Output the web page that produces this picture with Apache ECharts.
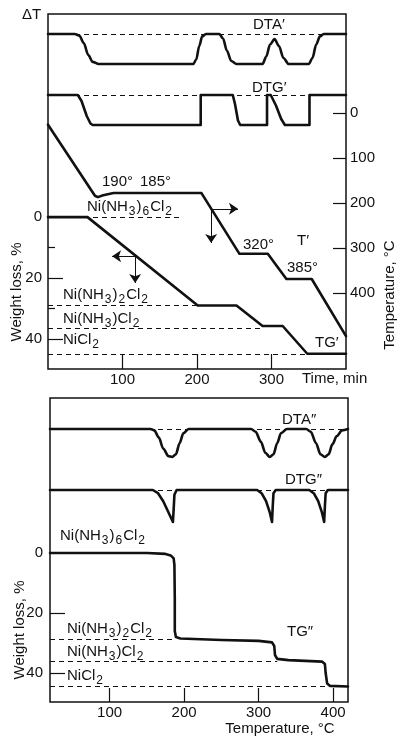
<!DOCTYPE html>
<html lang="en">
<head>
<meta charset="UTF-8">
<title>Ni(NH3)6Cl2 thermal decomposition</title>
<script src="https://cdn.jsdelivr.net/npm/echarts@6.0.0/dist/echarts.min.js"></script>
<style>
  html, body { margin: 0; padding: 0; background: #fff; }
  #main { width: 398px; height: 737px; }
</style>
</head>
<body>
<div id="main"></div>
<script>
// ---- data ----
// top panel: time (min) based curves
var tTemp = [[0, 26], [63, 184], [67, 187], [74, 183], [88, 178], [206, 178], [257, 313], [295, 313],
  [320, 369], [354, 369], [400, 496]];                          // T' (°C)
var tgTime = [[0, 0], [53, 0], [201, 29], [253, 29], [288, 35.7], [315, 35.7], [348, 44.8], [400, 44.8]]; // TG' (%)
var dtaTime = [[0, 0], [36, 0], [42, -0.05], [48, -0.3], [54, -0.7], [60, -0.93], [68, -1], [195, -1],
  [199, -0.85], [203, -0.4], [207, -0.08], [212, 0], [230, 0], [235, -0.15], [240, -0.55], [246, -0.9],
  [253, -1], [288, -1], [293, -0.75], [298, -0.35], [304, -0.17], [310, -0.4], [316, -0.8], [323, -1],
  [350, -1], [355, -0.8], [360, -0.35], [365, -0.08], [370, 0], [400, 0]];
var dtgTime = [[0, 0], [40, 0], [45, -0.2], [52, -0.7], [57, -0.95], [60, -1], [205, -1], [205, 0],
  [248, 0], [251, -0.3], [255, -0.85], [258, -1], [294, -1], [294, 0], [299, 0], [306, -0.35],
  [313, -0.8], [318, -1], [351, -1], [351, 0], [400, 0]];
var topLevels = [0, 29, 36.4, 44.8];          // dashed composition levels, %
var topLevelEnds = [180, 201, 288, 348];      // where each dashed line stops, min
var timeTicks = [100, 200, 300];
var tempTicks = [0, 100, 200, 300, 400];
var lossLabels = [0, 20, 40];
var lossMajor = [20, 40];
var lossMinor = [10, 30];

// bottom panel: temperature (°C) based curves
var tgTemp = [[20, 0], [150, 0], [175, 0.3], [182, 0.8], [186, 1.8], [187, 4], [187.5, 15], [187.5, 26],
  [189, 28], [195, 28.5], [250, 29], [300, 29.3], [318, 29.8], [321, 31], [322, 34], [325, 35.3],
  [340, 35.7], [385, 36.2], [389, 37], [390, 40], [392, 43.5], [396, 44.3], [420, 44.5]];
var dtaTemp = [[20, 0], [155, 0], [160, -0.05], [166, -0.3], [172, -0.7], [179, -0.97], [184, -1],
  [189, -0.9], [194, -0.5], [199, -0.15], [206, 0], [290, 0], [296, -0.1], [303, -0.45], [309, -0.85],
  [315, -1], [320, -0.9], [325, -0.5], [330, -0.15], [338, 0], [364, 0], [370, -0.1], [377, -0.5],
  [383, -0.9], [389, -1], [394, -0.9], [399, -0.55], [405, -0.25], [412, -0.05], [420, 0]];
var dtgTemp = [[20, 0], [158, 0], [165, -0.1], [172, -0.35], [178, -0.65], [183, -0.9], [185, -1],
  [186, -0.6], [187, -0.15], [190, 0], [298, 0], [304, -0.1], [310, -0.35], [315, -0.7], [318, -1],
  [319, -0.5], [320, -0.1], [323, 0], [368, 0], [374, -0.1], [380, -0.35], [385, -0.7], [388, -1],
  [389, -0.5], [390, -0.1], [393, 0], [420, 0]];
var botLevels = [28.7, 36, 44.3];
var botLevelEnds = [188, 325, 396];
var botTempTicks = [100, 200, 300, 400];

var INK = '#111';
var FONT = "'Liberation Sans', Arial, sans-serif";

function dashed(x0, x1, y) {
  return [{ coord: [x0, y] }, { coord: [x1, y] }];
}
function arrow(a, b) {
  return [{ coord: a, symbol: 'none' }, { coord: b, symbol: 'arrow' }];
}
function line(name, data, xi, yi, smooth) {
  return {
    name: name, type: 'line', data: data, xAxisIndex: xi, yAxisIndex: yi,
    showSymbol: false, smooth: smooth || false, smoothMonotone: 'x',
    lineStyle: { color: INK, width: 2.6, join: 'round', cap: 'round' }
  };
}
function marks(data, dash) {
  return {
    silent: true, symbol: ['none', 'none'], symbolSize: 9, label: { show: false },
    lineStyle: { color: INK, width: 1, type: dash ? [5, 4] : 'solid' },
    data: data
  };
}
function txt(x, y, text, extra) {
  var st = {
    text: text, fill: INK, fontSize: 15, fontFamily: FONT, lineHeight: 22,
    align: 'left', textAlign: 'left', verticalAlign: 'middle', textVerticalAlign: 'middle',
    rich: { s: { fontSize: 12, lineHeight: 12, verticalAlign: 'bottom', padding: [0, 1, 0, 1], fontFamily: FONT, fill: INK } }
  };
  var el = { type: 'text', x: x, y: y, style: st, silent: true };
  if (extra) {
    if (extra.align) { st.align = extra.align; st.textAlign = extra.align; }
    if (extra.rotation) el.rotation = extra.rotation;
  }
  return el;
}

var chart = echarts.init(document.getElementById('main'), null, { renderer: 'canvas' });

var lbl = { color: INK, fontSize: 15, fontFamily: FONT };
function tick(vals, len) {
  return { show: true, inside: true, length: len, customValues: vals, lineStyle: { color: INK, width: 1.2 } };
}
var noLine = { show: false, onZero: false };

var topLevelLines = topLevels.map(function (v, i) { return dashed(0, topLevelEnds[i], v); });
var botLevelLines = botLevels.map(function (v, i) { return dashed(20, botLevelEnds[i], v); });

var tSeries = line("T'", tTemp, 0, 2);
tSeries.markLine = marks([arrow([219, 213], [255, 213]), arrow([219, 213], [219, 289])]);
var tgSeries = line("TG'", tgTime, 0, 0);
tgSeries.markLine = marks(topLevelLines, true);
var tgArrows = { type: 'line', data: [], xAxisIndex: 0, yAxisIndex: 0,
  markLine: marks([arrow([117, 12.8], [86, 12.8]), arrow([117, 12.8], [117, 21.6])]) };
var dtaS = line("DTA'", dtaTime, 0, 3, 0.3);
dtaS.markLine = marks([dashed(0, 400, 0)], true);
var dtgS = line("DTG'", dtgTime, 0, 4);
dtgS.markLine = marks([dashed(0, 400, 0)], true);

var tg2 = line("TG''", tgTemp, 1, 5);
tg2.markLine = marks(botLevelLines, true);
var dta2 = line("DTA''", dtaTemp, 1, 6, 0.3);
dta2.markLine = marks([dashed(20, 420, 0)], true);
var dtg2 = line("DTG''", dtgTemp, 1, 7);
dtg2.markLine = marks([dashed(20, 420, 0)], true);

var option = {
  animation: false,
  backgroundColor: '#fff',
  grid: [
    { left: 48, right: 52, top: 14, height: 355, show: true, borderColor: INK, borderWidth: 1.5, backgroundColor: 'transparent', outerBoundsMode: 'none' },
    { left: 50, right: 50, top: 398, height: 304, show: true, borderColor: INK, borderWidth: 1.5, backgroundColor: 'transparent', outerBoundsMode: 'none' }
  ],
  xAxis: [
    { gridIndex: 0, type: 'value', position: 'bottom', min: 0, max: 400, axisLine: noLine, splitLine: { show: false },
      axisTick: tick(timeTicks, 15), axisLabel: Object.assign({ customValues: timeTicks, margin: 3 }, lbl) },
    { gridIndex: 1, type: 'value', position: 'bottom', min: 20, max: 420, axisLine: noLine, splitLine: { show: false },
      axisTick: tick(botTempTicks, 14), axisLabel: Object.assign({ customValues: botTempTicks, margin: 3 }, lbl) }
  ],
  yAxis: [
    { gridIndex: 0, type: 'value', position: 'left', inverse: true, min: -66.6, max: 49.8,
      axisLine: noLine, splitLine: { show: false },
      axisTick: tick(lossMajor, 15), axisLabel: Object.assign({ customValues: lossLabels, margin: 6 }, lbl) },
    { gridIndex: 0, type: 'value', position: 'left', inverse: true, min: -66.6, max: 49.8,
      axisLine: noLine, splitLine: { show: false },
      axisTick: tick(lossMinor, 7), axisLabel: { show: false } },
    { gridIndex: 0, type: 'value', position: 'right', inverse: true, min: -220, max: 569,
      axisLine: noLine, splitLine: { show: false },
      axisTick: tick(tempTicks, 13), axisLabel: Object.assign({ customValues: tempTicks, margin: 4 }, lbl) },
    { gridIndex: 0, type: 'value', min: -11.17, max: 0.667, show: false },
    { gridIndex: 0, type: 'value', min: -9.13, max: 2.7, show: false },
    { gridIndex: 1, type: 'value', position: 'left', inverse: true, min: -51.67, max: 49.67,
      axisLine: noLine, splitLine: { show: false },
      axisTick: tick(lossMajor, 15), axisLabel: Object.assign({ customValues: lossLabels, margin: 7 }, lbl) },
    { gridIndex: 1, type: 'value', min: -9.75, max: 1.107, show: false },
    { gridIndex: 1, type: 'value', min: -6.625, max: 2.875, show: false }
  ],
  series: [tSeries, tgSeries, tgArrows, dtaS, dtgS, tg2, dta2, dtg2],
  graphic: [
    txt(22, 15, '\u0394T'),
    txt(253, 25, 'DTA\u2032'),
    txt(252, 88, 'DTG\u2032'),
    txt(102, 182, '190\u00b0'),
    txt(140, 182, '185\u00b0'),
    txt(87, 207, 'Ni(NH{s|3}){s|6}Cl{s|2}'),
    txt(243, 245, '320\u00b0'),
    txt(297, 241, 'T\u2032'),
    txt(287, 268, '385\u00b0'),
    txt(63, 295, 'Ni(NH{s|3}){s|2}Cl{s|2}'),
    txt(63, 319, 'Ni(NH{s|3})Cl{s|2}'),
    txt(63, 340, 'NiCl{s|2}'),
    txt(315, 343, 'TG\u2032'),
    txt(302, 379, 'Time, min'),
    txt(17, 292, 'Weight loss, %', { align: 'center', rotation: Math.PI / 2 }),
    txt(390, 295, 'Temperature, \u00b0C', { align: 'center', rotation: Math.PI / 2 }),
    txt(282, 420, 'DTA\u2033'),
    txt(285, 480, 'DTG\u2033'),
    txt(60, 536, 'Ni(NH{s|3}){s|6}Cl{s|2}'),
    txt(67, 629, 'Ni(NH{s|3}){s|2}Cl{s|2}'),
    txt(67, 652, 'Ni(NH{s|3})Cl{s|2}'),
    txt(67, 676, 'NiCl{s|2}'),
    txt(287, 632, 'TG\u2033'),
    txt(20, 630, 'Weight loss, %', { align: 'center', rotation: Math.PI / 2 }),
    txt(280, 729, 'Temperature, \u00b0C', { align: 'center' })
  ]
};

chart.setOption(option);
</script>
</body>
</html>
